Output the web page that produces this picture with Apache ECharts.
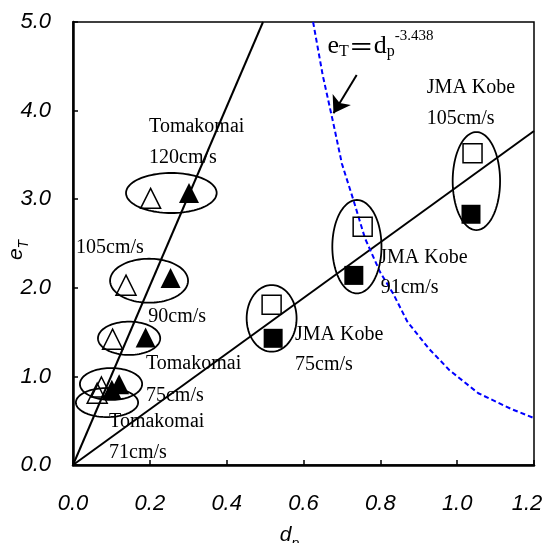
<!DOCTYPE html>
<html>
<head>
<meta charset="utf-8">
<script src="https://cdn.jsdelivr.net/npm/echarts@6/dist/echarts.min.js"></script>
<style>html,body{margin:0;padding:0;background:#fff;}#c{width:553px;height:543px;}</style>
</head>
<body>
<div id="c"></div>
<script>
// Tomakomai (triangles) open / filled : [d_p, e_T]
var tomOpen   = [[0.202,3.01],[0.138,2.03],[0.103,1.42],[0.074,0.88],[0.063,0.81]];
var tomFilled = [[0.302,3.07],[0.254,2.11],[0.189,1.44],[0.120,0.91],[0.101,0.85]];
// JMA Kobe (squares) open / filled
var kobeOpen   = [[1.040,3.52],[0.754,2.69],[0.517,1.81]];
var kobeFilled = [[1.036,2.83],[0.731,2.14],[0.521,1.43]];
// regression lines through origin
var fitSteep = [[0,0],[0.4946,5.0]];
var fitFlat  = [[0,0],[1.2,3.77]];
// blue dashed curve e_T = d_p^-3.438
var curveX = [0.625,0.65,0.678,0.70,0.730,0.76,0.799,0.834,0.87,0.925,0.98,1.055,1.142,1.2];
var curveY = [5.00,4.40,3.85,3.40,2.99,2.56,2.18,1.93,1.62,1.32,1.07,0.81,0.63,0.53];
// ellipses: [cx, cy, rx, ry] in data units
var ellipses = [
  [0.256,3.07,0.118,0.226],
  [0.198,2.08,0.1015,0.248],
  [0.146,1.43,0.081,0.188],
  [0.099,0.914,0.081,0.18],
  [0.0885,0.705,0.081,0.164],
  [1.050,3.205,0.0617,0.553],
  [0.739,2.464,0.064,0.527],
  [0.517,1.655,0.065,0.376]
];
// annotation texts: [x, y] anchors (left, middle) in data units
var noteText = ['Tomakomai','120cm/s','105cm/s','90cm/s','Tomakomai','75cm/s','Tomakomai','71cm/s',
                'JMA Kobe','105cm/s','JMA Kobe','91cm/s','JMA Kobe','75cm/s'];
var notePos = [[0.198,3.815],[0.198,3.465],[0.008,2.449],[0.196,1.670],[0.190,1.140],[0.190,0.779],
               [0.094,0.489],[0.094,0.135],[0.921,4.255],[0.921,3.905],[0.797,2.336],[0.801,1.998],
               [0.578,1.467],[0.578,1.129]];
var formulaPos = [[0.6624,4.728]];
var arrowLine = [[0.7384,4.402],[0.678,3.97]];
var xTicks = ['0.0','0.2','0.4','0.6','0.8','1.0','1.2'];
var yTicks = ['0.0','1.0','2.0','3.0','4.0','5.0'];

var SERIF = '"Liberation Serif","Times New Roman",serif';
var SANS = '"Liberation Sans",Arial,sans-serif';

var chart = echarts.init(document.getElementById('c'));
chart.setOption({
  animation: false,
  backgroundColor: '#fff',
  grid: {left: 73, right: 19, top: 22, bottom: 78, show: true, borderColor: '#000', borderWidth: 1.5,
         containLabel: false, outerBoundsMode: 'none'},
  xAxis: {
    type: 'value', min: 0, max: 1.2, interval: 0.2,
    name: '{d|d}{p|p}', nameLocation: 'middle', nameGap: 59, nameMoveOverlap: false,
    nameTextStyle: {padding: [0, 28, 0, 0],
      rich: {d: {fontFamily: SANS, fontStyle: 'italic', fontSize: 21, color: '#000', lineHeight: 22, verticalAlign: 'bottom'},
             p: {fontFamily: SANS, fontStyle: 'italic', fontSize: 14, color: '#000', lineHeight: 14, verticalAlign: 'bottom', padding: [0,0,-5,0]}}},
    axisLine: {show: true, lineStyle: {color: '#000', width: 2.5}},
    axisTick: {show: true, inside: true, length: 5, lineStyle: {color: '#000', width: 1.5}},
    splitLine: {show: false},
    axisLabel: {
      margin: 28, color: '#000', fontFamily: SANS, fontStyle: 'italic', fontSize: 22,
      formatter: function (v) { var i = Math.round(v / 0.2); return i === 6 ? '{r|' + xTicks[i] + '}' : xTicks[i]; },
      rich: {r: {fontFamily: SANS, fontStyle: 'italic', fontSize: 22, color: '#000', padding: [0, 14, 0, 0]}}
    }
  },
  yAxis: {
    type: 'value', min: 0, max: 5, interval: 1,
    name: '{e|e}{t|T}', nameLocation: 'middle', nameGap: 46, nameRotate: 90, nameMoveOverlap: false,
    nameTextStyle: {padding: [0, 13, 0, 0],
      rich: {e: {fontFamily: SANS, fontStyle: 'italic', fontSize: 21, color: '#000', lineHeight: 22, verticalAlign: 'bottom'},
             t: {fontFamily: SANS, fontStyle: 'italic', fontSize: 14, color: '#000', lineHeight: 14, verticalAlign: 'bottom', padding: [0,0,-4,0]}}},
    axisLine: {show: true, lineStyle: {color: '#000', width: 2.5}},
    axisTick: {show: true, inside: true, length: 5, lineStyle: {color: '#000', width: 1.5}},
    splitLine: {show: false},
    axisLabel: {
      margin: 22, color: '#000', fontFamily: SANS, fontStyle: 'italic', fontSize: 22,
      formatter: function (v) { return yTicks[Math.round(v)]; }
    }
  },
  series: [
    {type: 'line', data: fitSteep, showSymbol: false, symbol: 'none', lineStyle: {color: '#000', width: 2}, z: 3, silent: true},
    {type: 'line', data: fitFlat, showSymbol: false, symbol: 'none', lineStyle: {color: '#000', width: 2}, z: 3, silent: true},
    {type: 'line', data: curveX.map(function (x, i) { return [x, curveY[i]]; }), showSymbol: false, symbol: 'none',
     lineStyle: {color: '#0000FF', width: 2, type: [5, 3]}, z: 3, silent: true},
    {type: 'scatter', data: tomOpen, symbol: 'triangle', symbolSize: 20,
     itemStyle: {color: 'rgba(255,255,255,0)', borderColor: '#000', borderWidth: 1.5, opacity: 1}, z: 4},
    {type: 'scatter', data: tomFilled, symbol: 'triangle', symbolSize: 20, itemStyle: {color: '#000', opacity: 1}, z: 4},
    {type: 'scatter', data: kobeOpen, symbol: 'rect', symbolSize: 19,
     itemStyle: {color: 'rgba(255,255,255,0)', borderColor: '#000', borderWidth: 1.5, opacity: 1}, z: 4},
    {type: 'scatter', data: kobeFilled, symbol: 'rect', symbolSize: 19, itemStyle: {color: '#000', opacity: 1}, z: 4},
    {type: 'custom', data: ellipses, z: 5, silent: true,
     renderItem: function (params, api) {
       var c = api.coord([api.value(0), api.value(1)]);
       var s = api.size([api.value(2), api.value(3)]);
       var pts = [];
       for (var k = 0; k < 96; k++) {
         var a = k / 96 * Math.PI * 2;
         pts.push([c[0] + s[0] * Math.cos(a), c[1] + s[1] * Math.sin(a)]);
       }
       return {type: 'polygon', shape: {points: pts}, style: {fill: 'none', stroke: '#000', lineWidth: 1.8}};
     }},
    {type: 'custom', data: notePos, z: 6, silent: true,
     renderItem: function (params, api) {
       var c = api.coord([api.value(0), api.value(1)]);
       return {type: 'text', x: c[0], y: c[1], style: {text: noteText[params.dataIndex], fill: '#000',
         fontFamily: SERIF, fontSize: 20, align: 'left', verticalAlign: 'middle'}};
     }},
    {type: 'custom', data: formulaPos, z: 6, silent: true,
     renderItem: function (params, api) {
       var c = api.coord([api.value(0), api.value(1)]);
       return {type: 'text', x: c[0], y: c[1], style: {
         text: '{a|e}{s|T}{q|＝}{a|d}{s|p}{u|-3.438}', fill: '#000',
         fontFamily: SERIF, fontSize: 26,
         align: 'left', verticalAlign: 'middle',
         rich: {
           a: {fontFamily: SERIF, fontSize: 26, lineHeight: 28, verticalAlign: 'middle', fill: '#000'},
           q: {fontFamily: '"Noto Sans CJK JP"', fontSize: 25, lineHeight: 28, verticalAlign: 'middle', fill: '#000'},
           s: {fontFamily: SERIF, fontSize: 16, lineHeight: 16, verticalAlign: 'bottom', fill: '#000'},
           u: {fontFamily: SERIF, fontSize: 15, lineHeight: 15, verticalAlign: 'top', fill: '#000', padding: [-4,0,0,0]}
         }}};
     }},
    {type: 'lines', coordinateSystem: 'cartesian2d', silent: true, z: 6,
     data: [{coords: arrowLine}],
     lineStyle: {color: '#000', width: 2, opacity: 1},
     symbol: ['none', 'arrow'], symbolSize: 16}
  ]
});
</script>
</body>
</html>
